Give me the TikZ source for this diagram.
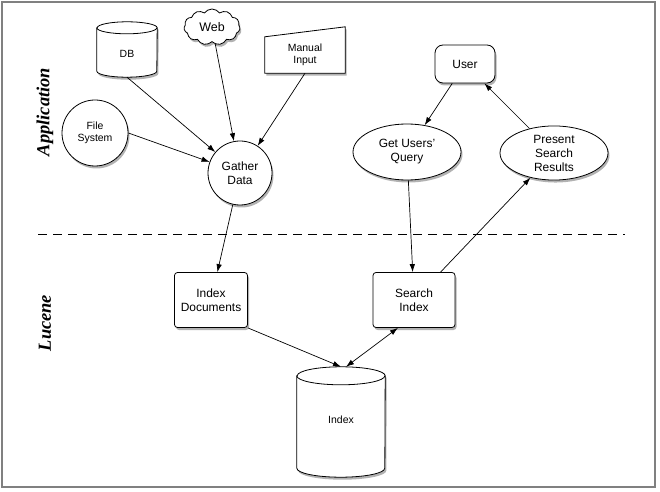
\documentclass[tikz,border=0pt]{standalone}
\usepackage{fontspec}
\setmainfont{Liberation Sans}
\newfontfamily\lblfont{Liberation Serif}
\usetikzlibrary{shapes.geometric,shapes.symbols,shadows,arrows.meta,calc}
\begin{document}
\begin{tikzpicture}[x=1bp,y=1bp,
  shd/.style={drop shadow={shadow xshift=1.5bp,shadow yshift=-2.5bp,opacity=0.3,fill=black}},
  base/.style={draw=black,line width=0.8bp,fill=white,shd,align=center,inner sep=1bp},
  bigtxt/.style={font=\fontsize{12}{14}\selectfont},
  smalltxt/.style={font=\fontsize{10.5}{12}\selectfont},
  circ/.style={base,circle,bigtxt},
  ellip/.style={base,ellipse,bigtxt},
  boxn/.style={base,rectangle,rounded corners=3bp,bigtxt},
  ghost/.style={rectangle,inner sep=0pt,align=center,smalltxt},
  conn/.style={line width=0.7bp,-{Latex[length=8bp,width=5.5bp]}},
  sidelbl/.style={rotate=90,font=\lblfont\bfseries\itshape\fontsize{18.5}{20}\selectfont}
]
\useasboundingbox (0,0) rectangle (660,-492);
\draw[draw=black!50,line width=1.5bp] (2,-2) rectangle (655,-487);

% side labels
\node[sidelbl] (lapp) at (45,-112) {Application};
\node[sidelbl] (lluc) at (45,-323) {Lucene};

% dashed separator
\coordinate (dl) at (38,-234);
\coordinate (dr) at (625,-234);
\draw[line width=0.7bp,dash pattern=on 9bp off 6bp] (dl) -- (dr);

% DB cylinder
\node[ghost,minimum width=60bp,minimum height=55bp] (db) at (127,-49.5) {};
\draw[base] ($(db.north west)+(0,-6)$) -- ($(db.south west)+(0,6)$)
  arc[start angle=180,end angle=360,x radius=30bp,y radius=6bp]
  -- ($(db.north east)+(0,-6)$)
  arc[start angle=0,end angle=180,x radius=30bp,y radius=6bp] -- cycle;
\draw[line width=0.8bp] ($(db.north west)+(0,-6)$) arc[start angle=180,end angle=360,x radius=30bp,y radius=6bp];
\node[smalltxt] (dbt) at (127,-54) {DB};

% Web cloud
\node[base,cloud,cloud puffs=11,cloud puff arc=110,aspect=1.7,minimum width=56bp,minimum height=36bp,inner sep=0pt,font=\fontsize{12.5}{14}\selectfont] (web) at (212,-27) {Web};

% Manual input
\node[ghost,minimum width=80bp,minimum height=36bp] (man) at (305,-55) {};
\draw[base] (man.south west) -- (man.north west) -- ($(man.north east)+(0,10)$) -- (man.south east) -- cycle;
\node[smalltxt,align=center] (mant) at (305,-55) {Manual\\Input};

% File System
\node[base,circle,minimum size=66bp,smalltxt] (fs) at (95,-133) {File\\System};

% Gather Data
\node[circ,minimum size=64bp] (gd) at (240,-173) {Gather\\Data};

% User
\node[base,rectangle,rounded corners=8bp,minimum width=60bp,minimum height=38bp,bigtxt] (user) at (465,-64) {User};

% Get Users' Query
\node[ellip,minimum width=108bp,minimum height=56bp] (gq) at (407,-152) {Get Users'\\Query};

% Present Search Results
\node[ellip,minimum width=108bp,minimum height=54bp] (psr) at (554,-153) {Present\\Search\\Results};

% Index Documents
\node[boxn,minimum width=73bp,minimum height=55bp] (idoc) at (211,-300) {Index\\Documents};

% Search Index
\node[boxn,minimum width=82bp,minimum height=55bp] (sidx) at (414,-300) {Search\\Index};

% Index cylinder
\node[ghost,minimum width=88bp,minimum height=110bp] (idx) at (341,-422) {};
\draw[base] ($(idx.north west)+(0,-9)$) -- ($(idx.south west)+(0,9)$)
  arc[start angle=180,end angle=360,x radius=44bp,y radius=9bp]
  -- ($(idx.north east)+(0,-9)$)
  arc[start angle=0,end angle=180,x radius=44bp,y radius=9bp] -- cycle;
\draw[line width=0.8bp] ($(idx.north west)+(0,-9)$) arc[start angle=180,end angle=360,x radius=44bp,y radius=9bp];
\node[smalltxt] (idxt) at (341,-420) {Index};

% connectors
\draw[conn] (db.south) -- (gd);
\draw[conn] (web) -- (gd);
\draw[conn] (man.south) -- (gd);
\draw[conn] (fs.east) -- (gd.160);
\draw[conn] (gd) -- (idoc);
\draw[conn] (user) -- (gq);
\draw[conn] (psr) -- (user);
\draw[conn] (gq) -- (sidx);
\draw[conn] (sidx) -- (psr);
\draw[conn] (idoc.south east) -- (idx.north);
\draw[line width=0.7bp,{Latex[length=8bp,width=5.5bp]}-{Latex[length=8bp,width=5.5bp]}] (sidx.240) -- ($(idx.north)+(5,0)$);
\end{tikzpicture}
\end{document}
